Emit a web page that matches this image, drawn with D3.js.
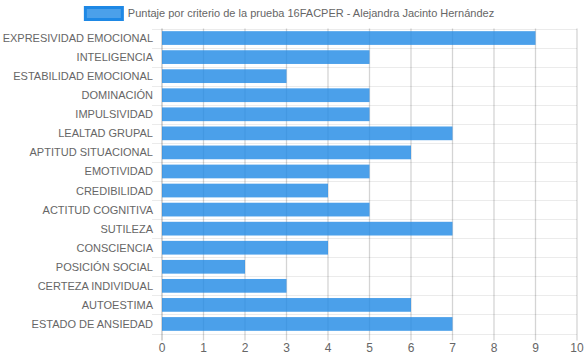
<!DOCTYPE html>
<html><head><meta charset="utf-8">
<script src="https://cdn.jsdelivr.net/npm/d3@7"></script>
<style>body{margin:0;background:#fff;}svg{display:block;font-family:"Liberation Sans",Arial,sans-serif;}</style>
</head><body>
<svg id="c" width="584" height="359"></svg>
<script>
const categories = ["EXPRESIVIDAD EMOCIONAL","INTELIGENCIA","ESTABILIDAD EMOCIONAL","DOMINACIÓN","IMPULSIVIDAD","LEALTAD GRUPAL","APTITUD SITUACIONAL","EMOTIVIDAD","CREDIBILIDAD","ACTITUD COGNITIVA","SUTILEZA","CONSCIENCIA","POSICIÓN SOCIAL","CERTEZA INDIVIDUAL","AUTOESTIMA","ESTADO DE ANSIEDAD"];
const values = [9,5,3,5,5,7,6,5,4,5,7,4,2,3,6,7];
const xTicks = [0,1,2,3,4,5,6,7,8,9,10];
const seriesLabel = "Puntaje por criterio de la prueba 16FACPER - Alejandra Jacinto Hernández";

const svg = d3.select("#c");
const L = 162, R = 577, T = 28.5, B = 333.5;
const x = d3.scaleLinear().domain([0,10]).range([L,R]);
const y = d3.scaleBand().domain(categories).range([T,B]);
const barH = y.bandwidth()*0.72;

// horizontal grid lines (category boundaries)
const bounds = categories.map(c=>y(c)).concat([B]);
svg.append("g").selectAll("line").data(bounds).join("line")
  .attr("x1",152).attr("x2",R)
  .attr("y1",d=>Math.round(d)+0.5).attr("y2",d=>Math.round(d)+0.5)
  .attr("stroke","rgba(0,0,0,0.08)");

// vertical grid lines
svg.append("g").selectAll("line").data(xTicks).join("line")
  .attr("x1",d=>x(d)).attr("x2",d=>x(d))
  .attr("y1",T).attr("y2",B+7)
  .attr("stroke",d=>d===0?"rgba(0,0,0,0.25)":"rgba(0,0,0,0.17)")
  .attr("stroke-width",1.3);

// bars
svg.append("g").selectAll("rect").data(values).join("rect")
  .attr("x",x(0)).attr("y",(d,i)=>y(categories[i])+(y.bandwidth()-barH)/2)
  .attr("width",d=>x(d)-x(0)).attr("height",barH)
  .attr("fill","rgba(30,136,229,0.8)");

// x tick labels
svg.append("g").selectAll("text").data(xTicks).join("text")
  .attr("x",d=>x(d)).attr("y",352).attr("text-anchor","middle")
  .attr("font-size",12).attr("fill","#666").text(d=>d);

// y tick labels
svg.append("g").selectAll("text").data(categories).join("text")
  .attr("x",153).attr("y",d=>y(d)+y.bandwidth()/2+4).attr("text-anchor","end")
  .attr("font-size",11).attr("fill","#666").text(d=>d);

// legend
const lg = svg.append("g");
const lt = lg.append("text").attr("y",17).attr("font-size",11).attr("fill","#666").text(seriesLabel);
const tw = lt.node().getComputedTextLength();
const total = 40+4+tw;
const lx = 584/2 - total/2 - 3;
lg.insert("rect","text").attr("x",lx+1.5).attr("y",7.5).attr("width",37).attr("height",12)
  .attr("fill","rgba(30,136,229,0.8)").attr("stroke","#1e88e5").attr("stroke-width",3);
lt.attr("x",lx+44);
</script>
</body></html>
